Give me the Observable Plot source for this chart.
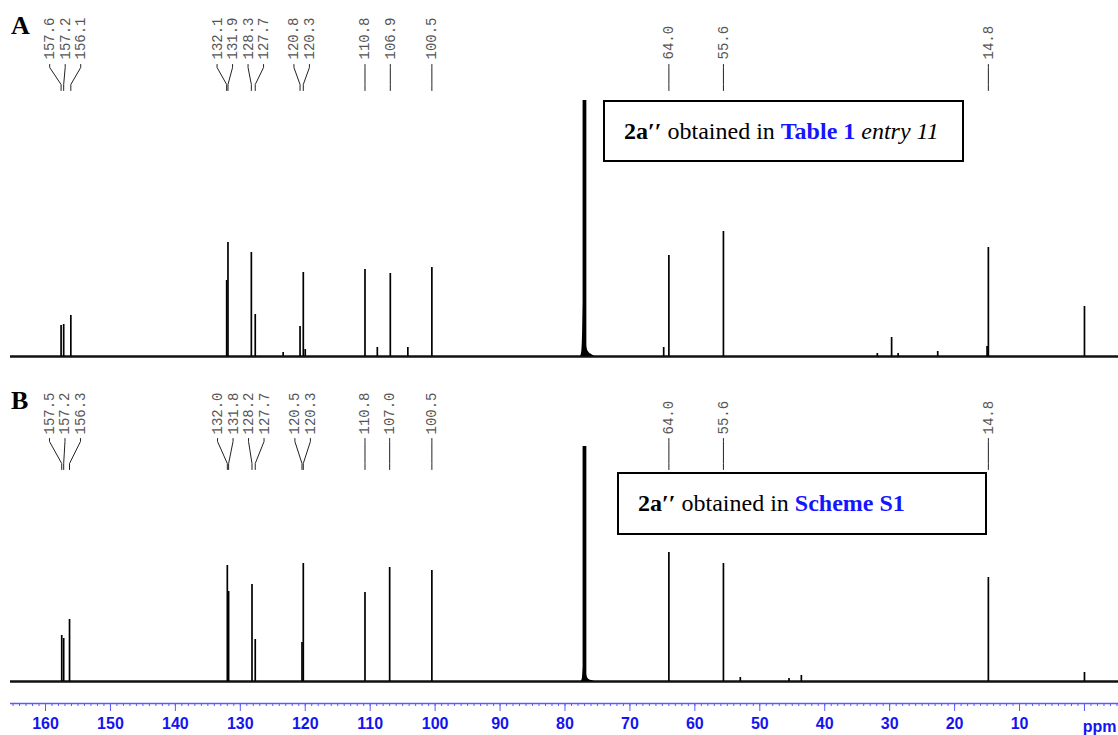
<!DOCTYPE html>
<html><head><meta charset="utf-8">
<script src="https://cdn.jsdelivr.net/npm/d3@7"></script>
<script src="https://cdn.jsdelivr.net/npm/@observablehq/plot@0.6"></script>
<style>
body{margin:0;background:#fff;}
#wrap{position:relative;width:1118px;height:735px;overflow:hidden;background:#fff;}
#wrap svg{position:absolute;left:0;display:block;}
.box{position:absolute;border:2px solid #000;background:#fff;box-sizing:border-box;display:flex;align-items:center;padding-left:19px;white-space:nowrap;font-family:"Liberation Serif","Times New Roman",serif;font-size:24px;color:#000;}
.box .blue{color:#1515ff;font-weight:bold;}
.letter{position:absolute;left:11px;font-family:"Liberation Serif","Times New Roman",serif;font-weight:bold;font-size:26px;line-height:26px;}
</style></head><body><div id="wrap"></div>
<script>
// ---------- data ----------
// Spectrum A: peak positions (ppm) and heights (relative intensity)
const ppmA = [157.6, 157.2, 156.1, 132.1, 131.9, 128.3, 127.7, 123.4, 120.8, 120.3, 120.0, 110.8, 108.9, 106.9, 104.2, 100.5, 77.16, 77.0, 76.84, 64.8, 64.0, 55.6, 31.9, 29.7, 28.7, 22.6, 15.0, 14.8, 0.0];
const intA = [31, 32, 41, 76, 114, 104, 42, 4, 30, 84, 7, 87, 9, 83, 9, 89, 256, 256, 256, 9, 101, 125, 3, 19, 3, 5, 10, 109, 50];
// Spectrum B
const ppmB = [157.5, 157.2, 156.3, 132.0, 131.8, 128.2, 127.7, 120.5, 120.3, 110.8, 107.0, 100.5, 77.16, 77.0, 76.84, 64.0, 55.6, 53.0, 45.5, 43.6, 14.8, 0.0];
const intB = [46, 43, 62, 116, 90, 97, 42, 39, 118, 89, 114, 111, 235, 235, 235, 129, 118, 4, 3, 6, 104, 9];
// broad base of the CDCl3 solvent signal
const solvPpmA = [77.6, 77.4, 77.25, 77.1, 76.95, 76.8, 76.6, 76.3, 75.9, 75.4];
const solvIntA = [0, 6, 30, 59, 52, 20, 8, 4, 2, 0];
const solvPpmB = [77.5, 77.3, 77.15, 77.0, 76.85, 76.6, 76.3, 75.9, 75.4];
const solvIntB = [0, 4, 14, 17, 12, 5, 2, 1, 0];
// peak-pick labels
const labelsA = ["157.6", "157.2", "156.1", "132.1", "131.9", "128.3", "127.7", "120.8", "120.3", "110.8", "106.9", "100.5", "64.0", "55.6", "14.8"];
const labelsB = ["157.5", "157.2", "156.3", "132.0", "131.8", "128.2", "127.7", "120.5", "120.3", "110.8", "107.0", "100.5", "64.0", "55.6", "14.8"];
// axis ticks
const majorTicks = [160, 150, 140, 130, 120, 110, 100, 90, 80, 70, 60, 50, 40, 30, 20, 10, 0];
const minorTicks = d3.range(-5, 166, 1);
const axisUnit = "ppm";

// ---------- layout ----------
const W = 1118;
const X_DOMAIN = [165.39, -5.24];
const ML = 10, MR = 0;
const BLUE_LINE = "#5a5aff", BLUE_TEXT = "#1414f0";
const LABEL_GAP = 15.5; // px between stacked labels
const xpx = d3.scaleLinear(X_DOMAIN, [ML, W - MR]);

function spread(values) {
  const items = values.map((v, i) => ({i, px: xpx(v)})).sort((a, b) => a.px - b.px);
  let groups = items.map(d => ({items: [d], c: d.px}));
  let changed = true;
  while (changed) {
    changed = false;
    for (let k = 0; k < groups.length - 1; k++) {
      const a = groups[k], b = groups[k + 1];
      const aR = a.c + (a.items.length - 1) / 2 * LABEL_GAP;
      const bL = b.c - (b.items.length - 1) / 2 * LABEL_GAP;
      if (bL - aR < LABEL_GAP) {
        const its = a.items.concat(b.items);
        groups.splice(k, 2, {items: its, c: d3.mean(its, d => d.px)});
        changed = true; break;
      }
    }
  }
  const out = new Array(values.length);
  for (const g of groups) g.items.forEach((d, j) => {
    out[d.i] = xpx.invert(g.c + (j - (g.items.length - 1) / 2) * LABEL_GAP);
  });
  return out;
}

function panel({ppm, inten, sPpm, sInt, labels, height, baseline, marginBottom, yMin, lay, axis}) {
  const peaks = ppm.map((p, i) => ({ppm: p, h: inten[i]}));
  const solv = sPpm.map((p, i) => ({ppm: p, h: sInt[i]}));
  const lv = labels.map(Number);
  const lx = spread(lv);
  const u = px => baseline - px;
  const lab = labels.map((t, i) => ({t, x: lx[i], y: u(lay.textBottom)}));
  const conn = [];
  labels.forEach((t, i) => {
    conn.push({id: i, x: lx[i], y: u(lay.connTop)});
    conn.push({id: i, x: lx[i], y: u(lay.bendTop)});
    conn.push({id: i, x: lv[i], y: u(lay.bendBottom)});
    conn.push({id: i, x: lv[i], y: u(lay.connBottom)});
  });
  const marks = [
    Plot.ruleY([0], {stroke: "#111", strokeWidth: 2.4}),
    Plot.areaY(solv, {x: "ppm", y: "h", fill: "#000", curve: "monotone-x"}),
    Plot.ruleX(peaks, {x: "ppm", y1: 0, y2: "h", stroke: "#000", strokeWidth: 1.7}),
    Plot.line(conn, {x: "x", y: "y", z: "id", stroke: "#222", strokeWidth: 1}),
    Plot.text(lab, {x: "x", y: "y", text: "t", rotate: -90, textAnchor: "start", lineAnchor: "middle",
      fontFamily: "Liberation Mono, DejaVu Sans Mono, monospace", fontSize: 14, fill: "#555"})
  ];
  if (axis) {
    marks.push(
      Plot.ruleY([yMin], {stroke: BLUE_LINE, strokeWidth: 1.5}),
      Plot.axisX(minorTicks, {anchor: "bottom", tickSize: 3, stroke: BLUE_LINE, tickFormat: () => "", label: null}),
      Plot.axisX(majorTicks, {anchor: "bottom", tickSize: 8, tickPadding: 6, stroke: BLUE_LINE, fill: BLUE_TEXT,
        tickFormat: d => d === 0 ? "" : String(d), fontSize: 16, fontWeight: "bold",
        fontFamily: "Liberation Sans, Arial, sans-serif", label: null}),
      Plot.text([axisUnit], {frameAnchor: "bottom-right", dx: -2, dy: 23, textAnchor: "end", lineAnchor: "middle",
        fill: BLUE_TEXT, fontSize: 16, fontWeight: "bold", fontFamily: "Liberation Sans, Arial, sans-serif"})
    );
  }
  return Plot.plot({
    width: W, height, marginTop: 0, marginBottom, marginLeft: ML, marginRight: MR,
    style: {background: "transparent", overflow: "visible"},
    x: {domain: X_DOMAIN, axis: null, label: null},
    y: {domain: [yMin, baseline], axis: null},
    marks
  });
}

const wrap = document.getElementById("wrap");
const svgA = panel({ppm: ppmA, inten: intA, sPpm: solvPpmA, sInt: solvIntA, labels: labelsA,
  height: 380, baseline: 356, marginBottom: 24, yMin: 0,
  lay: {textBottom: 59, connTop: 64, bendTop: 67, bendBottom: 84, connBottom: 90}, axis: false});
svgA.style.top = "0px";
wrap.appendChild(svgA);
const svgB = panel({ppm: ppmB, inten: intB, sPpm: solvPpmB, sInt: solvIntB, labels: labelsB,
  height: 355, baseline: 301, marginBottom: 32, yMin: -22,
  lay: {textBottom: 54, connTop: 58, bendTop: 61, bendBottom: 83, connBottom: 89}, axis: true});
svgB.style.top = "380px";
wrap.appendChild(svgB);

function addBox(html, left, topPx, w, h) {
  const d = document.createElement("div");
  d.className = "box";
  d.style.left = left + "px"; d.style.top = topPx + "px";
  d.style.width = w + "px"; d.style.height = h + "px";
  d.innerHTML = html;
  wrap.appendChild(d);
}
addBox('<b>2a′′</b>&nbsp;obtained in&nbsp;<span class="blue">Table 1</span>&nbsp;<i>entry 11</i>', 603, 100, 361, 62);
addBox('<b>2a′′</b>&nbsp;obtained in&nbsp;<span class="blue">Scheme S1</span>', 617, 472, 370, 63);

function addLetter(t, topPx) {
  const d = document.createElement("div");
  d.className = "letter"; d.style.top = topPx + "px"; d.textContent = t;
  wrap.appendChild(d);
}
addLetter("A", 13);
addLetter("B", 388);
</script></body></html>
